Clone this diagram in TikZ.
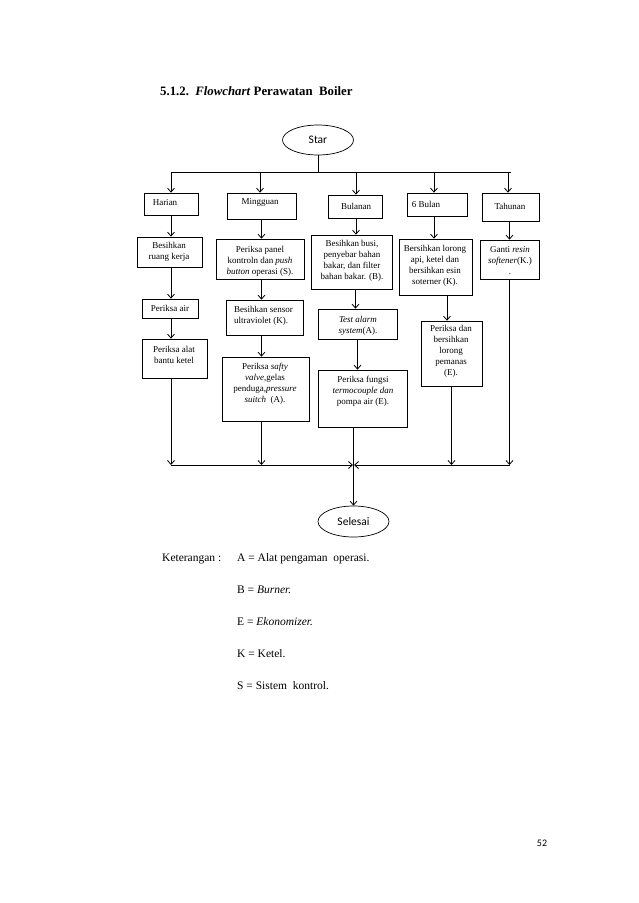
\documentclass[tikz,border=0pt]{standalone}
\usepackage{fontspec}
\setmainfont{Liberation Serif}
\newfontfamily\calib{Carlito}
\usetikzlibrary{arrows.meta,shapes.geometric,calc}
\begin{document}
\begin{tikzpicture}[x=1pt,y=-1pt,
  box/.style={draw,line width=0.7pt,inner sep=0pt,rectangle},
  oval/.style={draw,ellipse,line width=0.7pt,inner sep=0pt,minimum width=71pt,font=\calib\fontsize{11.5}{13}\selectfont},
  txt/.style={inner sep=0pt,align=center,font=\fontsize{9}{11}\selectfont},
  ln/.style={line width=0.8pt},
  arr/.style={ln,-{Straight Barb[length=4pt,width=7pt]}},
  legend/.style={inner sep=0pt,anchor=base west,font=\fontsize{11.5}{13}\selectfont}]
\fill[white] (0,0) rectangle (638,903);
\useasboundingbox (0,0) rectangle (638,903);
\newcommand\bx[5]{\node[box,minimum width={#4-#2},minimum height={#5-#3}] (#1) at ({(#2+#4)/2},{(#3+#5)/2}) {};}
% title
\node[inner sep=0pt,anchor=base west,font=\bfseries\fontsize{12.8}{14}\selectfont] (title) at (160,95) {5.1.2.\ \ \textit{Flowchart} Perawatan\ \ Boiler};
% terminals
\node[oval,minimum height=30pt] (star) at (318,140) {Star};
\node[oval,minimum height=31pt] (selesai) at (353.5,521.5) {Selesai};
% first row
\bx{harian}{144}{193}{198}{215}
\bx{ming}{227}{193}{296}{219}
\bx{bul}{328}{195}{382}{218}
\bx{enam}{407}{193}{467}{216}
\bx{tahun}{482}{193}{539}{221}
\node[txt] (harian-t) at (165,203) {Harian};
\node[txt] (ming-t) at (260,202) {Mingguan};
\node[txt] (bul-t) at (356,206) {Bulanan};
\node[txt] (enam-t) at (426,204) {6 Bulan};
\node[txt] (tahun-t) at (510,206) {Tahunan};
% harian column
\bx{ruang}{137}{237}{202}{267}
\bx{air}{142}{299}{198}{318}
\bx{alat}{142}{339}{207}{378}
\node[txt] (ruang-t) at (169,252) {Besihkan\\ruang kerja};
\node[txt] (air-t) at (170,308) {Periksa air};
\node[txt] (alat-t) at (174,355) {Periksa alat\\bantu ketel};
% mingguan column
\bx{panel}{216}{239}{304}{279}
\bx{sensor}{226}{300}{303}{335}
\bx{safty}{222}{357}{309}{421}
\node[txt] (panel-t) at (260,261) {Periksa panel\\kontroln dan \textit{push}\\\textit{button} operasi (S).};
\node[txt,align=left,anchor=west] (sensor-t) at (234,316) {Besihkan sensor\\ultraviolet (K).};
\node[txt] (safty-t) at (265,384) {Periksa \textit{safty}\\\textit{valve},gelas\\penduga,\textit{pressure}\\\textit{suitch}\ \ (A).};
% bulanan column
\bx{busi}{311}{235}{392}{289}
\bx{alarm}{318}{309}{397}{339}
\bx{fungsi}{318}{370}{407}{427}
\node[txt] (busi-t) at (352,261) {Besihkan busi,\\penyebar bahan\\bakar, dan filter\\bahan bakar. (B).};
\node[txt] (alarm-t) at (358,326) {\textit{Test alarm}\\\textit{system}(A).};
\node[txt] (fungsi-t) at (363,391) {Periksa fungsi\\\textit{termocouple dan}\\pompa air (E).};
% 6 bulan column
\bx{lorong}{399}{239}{472}{295}
\bx{pemanas}{421}{321}{482}{386}
\node[txt] (lorong-t) at (435,266) {Bersihkan lorong\\api, ketel dan\\bersihkan esin\\soterner (K).};
\node[txt] (pemanas-t) at (451,351) {Periksa dan\\bersihkan\\lorong\\pemanas\\(E).};
% tahunan column
\bx{resin}{480}{240}{539}{279}
\node[txt] (resin-t) at (510,261) {Ganti \textit{resin}\\\textit{softener}(K.)\\.};
% top connectors
\coordinate (split) at (318,172);
\draw[ln] (star.south) -- (split);
\draw[ln] (harian.north |- split) -- (tahun.north |- split);
\draw[arr] (harian.north |- split) -- (harian.north);
\draw[arr] ([xshift=-1.5pt]ming.north |- split) -- ([xshift=-1.5pt]ming.north);
\draw[arr] ([xshift=1pt]bul.north |- split) -- ([xshift=1pt]bul.north);
\draw[arr] ([xshift=-3pt]enam.north |- split) -- ([xshift=-3pt]enam.north);
\draw[arr] ([xshift=-2.5pt]tahun.north |- split) -- ([xshift=-2.5pt]tahun.north);
% harian column
\draw[arr] (harian.south) -- (harian.south |- ruang.north);
\draw[arr] (harian.south |- ruang.south) -- (harian.south |- air.north);
\draw[arr] (harian.south |- air.south) -- (harian.south |- alat.north);
% mingguan column
\draw[arr] (ming.south) -- (ming.south |- panel.north);
\draw[arr] (ming.south |- panel.south) -- (ming.south |- sensor.north);
\draw[arr] (ming.south |- sensor.south) -- (ming.south |- safty.north);
% bulanan column
\draw[arr] ([xshift=1pt]bul.south) -- ([xshift=1pt]bul.south |- busi.north);
\draw[arr] ([xshift=-2pt]alarm.north |- busi.south) -- ([xshift=-2pt]alarm.north);
\draw[arr] (alarm.south) -- (alarm.south |- fungsi.north);
% 6 bulan column
\draw[arr] ([xshift=-3pt]enam.south) -- ([xshift=-3pt]enam.south |- lorong.north);
\draw[arr] ([xshift=-4.5pt]pemanas.north |- lorong.south) -- ([xshift=-4.5pt]pemanas.north);
% tahunan column
\draw[arr] (resin.north |- tahun.south) -- (resin.north);
% bottom connectors
\coordinate (join) at (353.5,465);
\draw[arr] (harian.south |- alat.south) -- (harian.south |- join);
\draw[arr] (ming.south |- safty.south) -- (ming.south |- join);
\draw[arr] (pemanas.south) -- (pemanas.south |- join);
\draw[arr] (resin.south) -- (resin.south |- join);
\draw[arr,shorten >=0.5pt] (harian.south |- join) -- (join);
\draw[arr,shorten >=0.5pt] (resin.south |- join) -- (join);
\draw[ln] (selesai.north |- fungsi.south) -- (join);
\draw[arr] (join) -- (selesai.north);
% legend
\node[legend] (ket) at (162,561) {Keterangan :};
\node[legend] (legA) at (237,561) {A = Alat pengaman\ \ operasi.};
\node[legend] (legB) at (237,593) {B = \textit{Burner.}};
\node[legend] (legE) at (237,625) {E = \textit{Ekonomizer.}};
\node[legend] (legK) at (237,657) {K = Ketel.};
\node[legend] (legS) at (237,689) {S = Sistem\ \ kontrol.};
% page number
\node[inner sep=0pt,font=\calib\fontsize{10}{12}\selectfont] (page) at (542,843) {52};
\end{tikzpicture}
\end{document}
